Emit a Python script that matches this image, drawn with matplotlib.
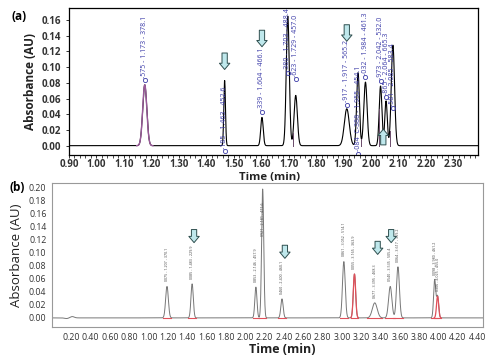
import numpy as np
import matplotlib
matplotlib.use('Agg')
import matplotlib.pyplot as plt
from matplotlib.ticker import MultipleLocator

plt.rcParams['font.family'] = ['Open Sans', 'DejaVu Sans']

# ---- panel (a) peaks: retention time (min), height (AU), width (sigma, min)
a_times = [1.176, 1.467, 1.603, 1.697, 1.726, 1.912, 1.953, 1.980, 2.035, 2.055, 2.080]
a_heights = [0.0775, 0.083, 0.036, 0.165, 0.064, 0.047, 0.093, 0.081, 0.076, 0.057, 0.128]
a_sigmas = [0.0075, 0.003, 0.0045, 0.0055, 0.006, 0.009, 0.005, 0.006, 0.005, 0.0045, 0.006]
a_labels = ['-575 - 1.173 - 378.1', '-185 - 1.463 - 452.6', '-339 - 1.604 - 466.1',
            '-380 - 1.703 - 488.4', '-623 - 1.729 - 457.0', '-917 - 1.917 - 565.2',
            '-084  C-388 - 1.955 - 454.1', '-032 - 1.984 - 461.3', '-973 - 2.042 - 532.0',
            '-865 - 2.064 - 665.3', '-581 - 2.085 - 583.4']
a_label_y = [0.083, -0.007, 0.043, 0.092, 0.085, 0.052, -0.01, 0.087, 0.082, 0.062, 0.048]
a_valleys = [1.716, 1.965, 2.030, 2.068]
a_down_arrows = [1.467, 1.603, 1.912]
a_up_arrows = [2.045]

# ---- panel (b) peaks
b_times = [1.19, 1.45, 2.11, 2.18, 2.38, 3.02, 3.13, 3.34, 3.50, 3.58, 3.96, 3.99]
b_heights = [0.048, 0.052, 0.047, 0.197, 0.029, 0.086, 0.067, 0.023, 0.048, 0.078, 0.058, 0.033]
b_sigmas = [0.014, 0.012, 0.011, 0.011, 0.012, 0.014, 0.012, 0.025, 0.017, 0.015, 0.011, 0.011]
b_red = [False, False, False, False, False, False, True, False, False, False, False, True]
b_labels = ['0075 - 1.207 - 370.1', '0085 - 1.483 - 229.9', '0853 - 2.146 - 457.9',
            '0921 - 2.181 - 471.6', '0460 - 2.400 - 460.1', '0861 - 3.052 - 514.1',
            '0055 - 3.165 - 363.9', '0677 - 3.395 - 468.3', '0540 - 3.535 - 505.4',
            '0064 - 3.617 - 369.2', '0098 - 3.980 - 461.2', '0306 - 4.025 - 455.0']
b_label_y = [0.056, 0.060, 0.055, 0.125, 0.037, 0.094, 0.075, 0.031, 0.056, 0.086, 0.066, 0.041]
b_down_arrows = [1.47, 2.41, 3.37, 3.51]
b_small_bumps_t = [0.21, 0.15]
b_small_bumps_h = [0.002, -0.001]


def trace(t, times, heights, sigmas):
    y = np.zeros_like(t)
    for c, h, s in zip(times, heights, sigmas):
        y += h * np.exp(-0.5 * ((t - c) / s) ** 2)
    return y


arrow_style = dict(arrowstyle='simple,head_width=0.75,head_length=0.45,tail_width=0.38',
                   fc='#bfe8ec', ec='#2f4f4f', lw=0.7, shrinkA=0, shrinkB=0)

fig = plt.figure(figsize=(5, 3.59), dpi=100)

# ================= panel (a) =================
ax1 = fig.add_axes([0.138, 0.568, 0.818, 0.409])
ta = np.linspace(0.90, 2.39, 3000)
ya = trace(ta, a_times, a_heights, a_sigmas)
ax1.plot(ta, ya, color='black', lw=0.8)
# first peak drawn in purple
m = (ta > a_times[0] - 0.03) & (ta < a_times[0] + 0.03)
ax1.plot(ta[m], ya[m], color='#9a5a9a', lw=1.0)
# drop lines between overlapped peaks
for v in a_valleys:
    ax1.plot([v, v], [0, trace(np.array([v]), a_times, a_heights, a_sigmas)[0]],
             color='#6a4a6a', lw=0.7)
# peak labels
for x, lab, y0 in zip(a_times, a_labels, a_label_y):
    ax1.plot(x, y0, 'o', ms=3, mfc='none', mec='#3a3aa8', mew=0.6)
    ax1.text(x, y0 + 0.003, lab, rotation=90, color='#3a3aa8', fontsize=5,
             ha='center', va='bottom', clip_on=True)
a_arrow_tips = [0.097, 0.126, 0.133]
for x, yt in zip(a_down_arrows, a_arrow_tips):
    ax1.annotate('', xy=(x, yt), xytext=(x, yt + 0.021), arrowprops=arrow_style)
for x in a_up_arrows:
    ax1.annotate('', xy=(x, 0.021), xytext=(x, 0.001), arrowprops=arrow_style)

ax1.xaxis.set_minor_locator(MultipleLocator(0.02))
ax1.yaxis.set_major_locator(MultipleLocator(0.02))
ax1.set_xticks(np.arange(0.9, 2.31, 0.1))
ax1.set_xticklabels([f'{v:.2f}' for v in np.arange(0.9, 2.31, 0.1)])
ax1.set_xlim(0.90, 2.39)
ax1.set_ylim(-0.012, 0.175)
ax1.tick_params(axis='both', labelsize=7, colors='#333333', length=2.5, width=0.7)
ax1.tick_params(axis='x', pad=0.5)
ax1.tick_params(axis='x', which='minor', length=2, width=0.5)
for lab in ax1.get_xticklabels() + ax1.get_yticklabels():
    lab.set_fontweight('bold')
for sp in ax1.spines.values():
    sp.set_linewidth(0.9)
ax1.set_ylabel('Absorbance (AU)', fontsize=8.5, fontweight='bold', color='#222222', labelpad=3)
ax1.set_xlabel('Time (min)', fontsize=8.2, fontweight='bold', color='#222222')
ax1.xaxis.set_label_coords(0.49, -0.112)

# ================= panel (b) =================
ax2 = fig.add_axes([0.104, 0.089, 0.862, 0.401])
tb = np.linspace(0.0, 4.46, 5000)
yb = trace(tb, b_times, b_heights, b_sigmas) + trace(tb, b_small_bumps_t, b_small_bumps_h, [0.02, 0.02])
ax2.plot(tb, yb, color='#777777', lw=0.7)
for c, h, s, red, lab, ly in zip(b_times, b_heights, b_sigmas, b_red, b_labels, b_label_y):
    if red:
        m = (tb > c - 3.2 * s) & (tb < c + 3.2 * s)
        ax2.plot(tb[m], trace(tb[m], [c], [h], [s]), color='#e0505a', lw=0.9)
    # integration baseline marks
    ax2.plot([c - 3.2 * s, c + 3.2 * s], [0.0, 0.0], color='#e0505a', lw=0.8)
    ax2.text(c, ly, lab, rotation=90, fontsize=2.6, color='#444444',
             ha='center', va='bottom')
b_arrow_tips = [0.115, 0.091, 0.097, 0.115]
for x, yt in zip(b_down_arrows, b_arrow_tips):
    ax2.annotate('', xy=(x, yt), xytext=(x, yt + 0.02), arrowprops=arrow_style)

ax2.set_xlim(0.0, 4.46)
ax2.set_ylim(-0.014, 0.206)
ax2.set_xticks(np.arange(0.2, 4.41, 0.2))
ax2.set_xticklabels([f'{v:.2f}' for v in np.arange(0.2, 4.41, 0.2)])
ax2.set_yticks(np.arange(0.0, 0.201, 0.02))
ax2.set_yticklabels([f'{v:.2f}' for v in np.arange(0.0, 0.201, 0.02)])
ax2.tick_params(axis='both', labelsize=6.3, colors='#333333', length=0, pad=4)
for sp in ax2.spines.values():
    sp.set_color('#999999')
    sp.set_linewidth(0.8)
ax2.set_ylabel('Absorbance (AU)', fontsize=9.5, color='#222222', labelpad=4)
ax2.set_xlabel('Time (min)', fontsize=9, fontweight='bold', color='#222222', labelpad=3)
ax2.xaxis.set_label_coords(0.535, -0.11)

fig.text(0.022, 0.955, '(a)', fontsize=8.5, fontweight='bold', ha='left', va='center')
fig.text(0.02, 0.478, '(b)', fontsize=8.5, fontweight='bold', ha='left', va='center')

fig.savefig('out.png', dpi=100)
